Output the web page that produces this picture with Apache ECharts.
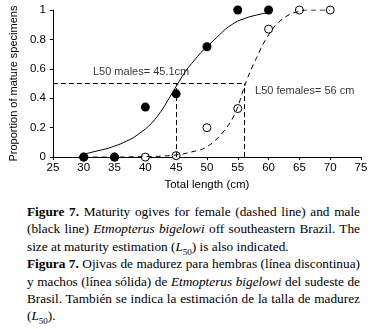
<!DOCTYPE html>
<html>
<head>
<meta charset="utf-8">
<script src="https://cdn.jsdelivr.net/npm/echarts@6/dist/echarts.min.js"></script>
<style>
  html, body { margin: 0; padding: 0; background: #fff; }
  #chart { position: absolute; left: 0; top: 0; width: 372px; height: 196px; }
  #caption {
    position: absolute; left: 27px; top: 203px; width: 333px;
    font-family: 'Liberation Serif', 'DejaVu Serif', serif;
    font-size: 13.3px; line-height: 17.4px; color: #000;
  }
  #caption div { white-space: nowrap; }
  #caption .j { text-align: justify; text-align-last: justify; }
  #caption sub { font-size: 9px; line-height: 0; }
</style>
</head>
<body>
<div id="chart"></div>
<div id="caption">
  <div class="j"><b>Figure 7.</b> Maturity ogives for female (dashed line) and male</div>
  <div class="j">(black line) <i>Etmopterus bigelowi</i> off southeastern Brazil. The</div>
  <div>size at maturity estimation (<i>L</i><sub>50</sub>) is also indicated.</div>
  <div class="j"><b>Figura 7.</b> Ojivas de madurez para hembras (línea discontinua)</div>
  <div class="j">y machos (línea sólida) de <i>Etmopterus bigelowi</i> del sudeste de</div>
  <div class="j">Brasil. También se indica la estimación de la talla de madurez</div>
  <div>(<i>L</i><sub>50</sub>).</div>
</div>
<script>
// observed proportions
var lengths = [30, 35, 40, 45, 50, 55, 60, 65, 70];
var males = [0, 0, 0.34, 0.43, 0.75, 1, 1];
var females = [0, 0, 0, 0.01, 0.2, 0.33, 0.87, 1, 1];

// fitted ogives
var maleCurveX = [30, 31, 32, 33, 34, 35, 36, 37, 38, 39, 40, 41, 42, 43, 44, 45,
                  46, 47, 48, 49, 50, 51, 52, 53, 54, 55, 56, 57, 58, 59, 60];
var maleCurve = [0.02, 0.03, 0.04, 0.05, 0.06, 0.075, 0.09, 0.11, 0.13, 0.16, 0.19, 0.23, 0.28, 0.34, 0.41, 0.48,
                 0.55, 0.61, 0.66, 0.71, 0.75, 0.79, 0.83, 0.87, 0.9, 0.925, 0.94, 0.955, 0.965, 0.975, 0.98];
var femaleCurveX = [30, 32, 34, 36, 38, 40, 42, 44, 45, 46, 47, 48, 49, 50, 51, 52, 53, 54, 55,
                    56, 57, 58, 59, 60, 61, 62, 63, 64, 65, 66, 67, 68, 70];
var femaleCurve = [0, 0, 0, 0, 0.002, 0.003, 0.005, 0.01, 0.015, 0.02, 0.03, 0.04, 0.05, 0.07, 0.1, 0.14, 0.19, 0.25, 0.34,
                   0.47, 0.58, 0.67, 0.76, 0.83, 0.89, 0.93, 0.96, 0.98, 0.99, 1, 1, 1, 1];

var maleL50 = 45.1;
var femaleL50 = 56;
var xTicks = [25, 30, 35, 40, 45, 50, 55, 60, 65, 70, 75];
var yTicks = [0, 0.2, 0.4, 0.6, 0.8, 1];

function pairs(xs, ys) {
    return ys.map(function (y, i) { return [xs[i], y]; });
}

var chart = echarts.init(document.getElementById('chart'));
var font = "'Liberation Sans', Arial, sans-serif";
var dash = { color: '#000', width: 1, type: [5, 3] };

var option = {
    animation: false,
    textStyle: { fontFamily: font, color: '#000' },
    grid: { left: 39, right: 11, top: 10, height: 148 },
    xAxis: {
        type: 'value',
        min: xTicks[0],
        max: xTicks[xTicks.length - 1],
        interval: 5,
        name: 'Total length (cm)',
        nameLocation: 'middle',
        nameGap: 21,
        nameTextStyle: { fontSize: 11.5, color: '#000', fontFamily: font },
        axisLine: { lineStyle: { color: '#000', width: 1 } },
        axisTick: { show: true, length: 3, lineStyle: { color: '#000' } },
        axisLabel: { fontSize: 11.5, color: '#000', fontFamily: font, margin: 5 },
        splitLine: { show: false }
    },
    yAxis: {
        type: 'value',
        min: yTicks[0],
        max: yTicks[yTicks.length - 1],
        interval: 0.2,
        name: 'Proportion of mature specimens',
        nameLocation: 'middle',
        nameGap: 27,
        nameTextStyle: { fontSize: 11, color: '#000', fontFamily: font },
        axisLine: { show: true, lineStyle: { color: '#000', width: 1 } },
        axisTick: { show: true, length: 3, lineStyle: { color: '#000' } },
        axisLabel: { fontSize: 11.5, color: '#000', fontFamily: font, margin: 7 },
        splitLine: { show: false }
    },
    series: [
        {
            name: 'female ogive',
            type: 'line',
            data: pairs(femaleCurveX, femaleCurve),
            showSymbol: false,
            smooth: 0.3,
            lineStyle: { color: '#000', width: 1, type: [5, 4] },
            markLine: {
                silent: true,
                symbol: 'none',
                label: { show: false },
                lineStyle: dash,
                data: [
                    [{ coord: [xTicks[0], 0.5] }, { coord: [femaleL50, 0.5] }],
                    [{ coord: [maleL50, 0] }, { coord: [maleL50, 0.5] }],
                    [{ coord: [femaleL50, 0] }, { coord: [femaleL50, 0.5] }]
                ]
            }
        },
        {
            name: 'male ogive',
            type: 'line',
            data: pairs(maleCurveX, maleCurve),
            showSymbol: false,
            smooth: 0.3,
            lineStyle: { color: '#000', width: 1 }
        },
        {
            name: 'females',
            type: 'scatter',
            data: pairs(lengths, females),
            symbol: 'circle',
            symbolSize: 8,
            itemStyle: { color: '#fff', borderColor: '#000', borderWidth: 1, opacity: 1 }
        },
        {
            name: 'males',
            type: 'scatter',
            data: pairs(lengths, males),
            symbol: 'circle',
            symbolSize: 9,
            itemStyle: { color: '#000', opacity: 1 }
        },
        {
            name: 'notes',
            type: 'scatter',
            symbolSize: 0,
            silent: true,
            data: [
                [31.5, 0.576, 'L50 males= ' + maleL50 + 'cm'],
                [57.8, 0.448, 'L50 females= ' + femaleL50 + ' cm']
            ],
            label: {
                show: true,
                position: 'right',
                distance: 0,
                formatter: function (p) { return p.value[2]; },
                fontSize: 11,
                color: '#000',
                fontFamily: font
            }
        }
    ]
};

option && chart.setOption(option);
</script>
</body>
</html>
